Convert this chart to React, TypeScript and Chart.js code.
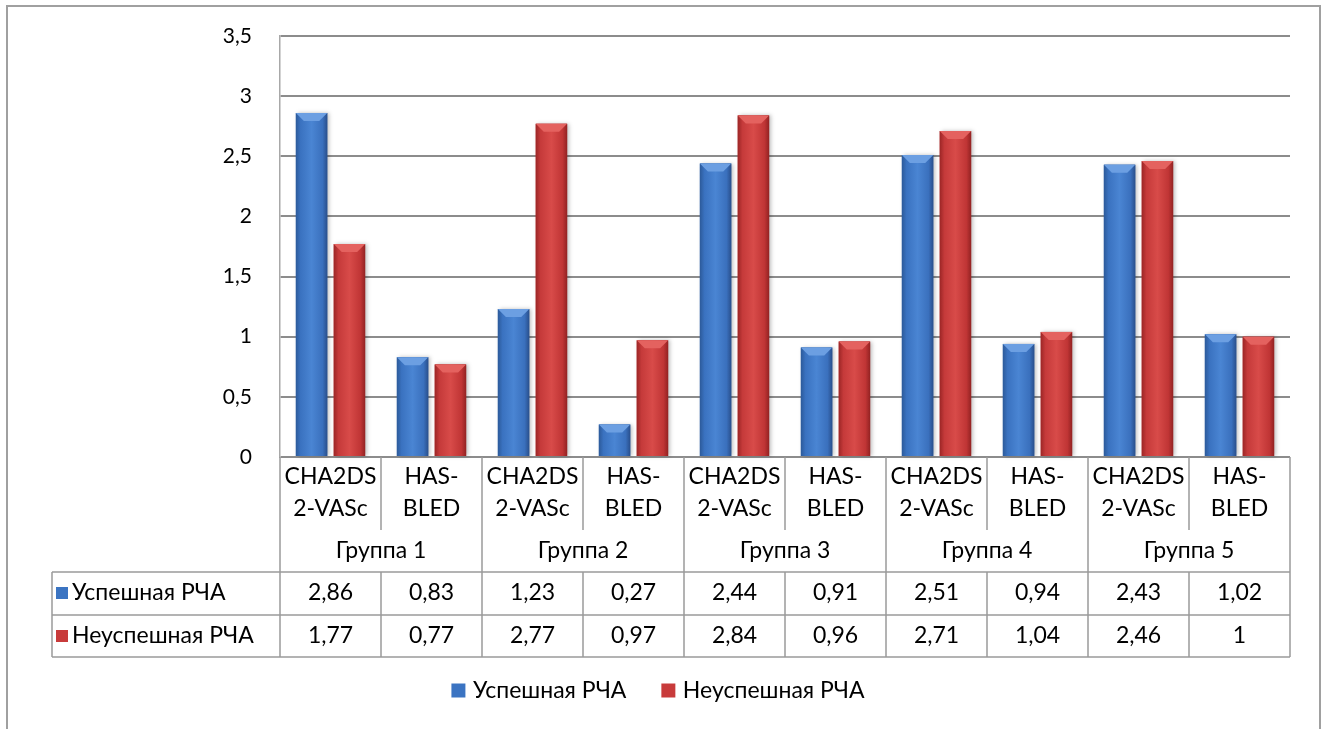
import { useEffect, useRef } from "react";
import { Chart, registerables } from "chart.js";

Chart.register(...registerables);

const subCategories: string[][] = [
  ["CHA2DS", "2-VASc"],
  ["HAS-", "BLED"],
];
const groups = ["Группа 1", "Группа 2", "Группа 3", "Группа 4", "Группа 5"];
const seriesNames = ["Успешная РЧА", "Неуспешная РЧА"];
const successValues = [2.86, 0.83, 1.23, 0.27, 2.44, 0.91, 2.51, 0.94, 2.43, 1.02];
const failValues = [1.77, 0.77, 2.77, 0.97, 2.84, 0.96, 2.71, 1.04, 2.46, 1];
const yMin = 0;
const yMax = 3.5;
const yStep = 0.5;

const FONT = 'Lato, "Open Sans", "DejaVu Sans", sans-serif';
const LINE = "#9a9a9a";
const BLUE = "#3b74c2";
const RED = "#c83b3b";
const TEXT_SIZE = 23;

const fmt = (v: number) => String(v).replace(".", ",");

const categoryLabels = groups.flatMap((g) => subCategories.map((s) => s.join(" ") + " " + g));

const barShading = {
  id: "barShading",
  afterDatasetsDraw(chart: any) {
    const ctx = chart.ctx;
    const palettes = [
      { stops: ["#2c5a9a", "#3a72c0", "#4a85d3", "#3a70bd", "#294f8c"], top: "#6c9fe2" },
      { stops: ["#9c2626", "#c53a3a", "#d84b49", "#c03535", "#932222"], top: "#e4625f" },
    ];
    chart.data.datasets.forEach((_: any, di: number) => {
      const meta = chart.getDatasetMeta(di);
      const pal = palettes[di];
      meta.data.forEach((el: any) => {
        const { x, y, base, width } = el.getProps(["x", "y", "base", "width"], true);
        const left = x - width / 2;
        const right = x + width / 2;
        const h = base - y;
        ctx.save();
        ctx.shadowColor = "rgba(0,0,0,0.25)";
        ctx.shadowBlur = 4;
        ctx.shadowOffsetX = 2;
        const g = ctx.createLinearGradient(left, 0, right, 0);
        g.addColorStop(0, pal.stops[0]);
        g.addColorStop(0.15, pal.stops[1]);
        g.addColorStop(0.5, pal.stops[2]);
        g.addColorStop(0.85, pal.stops[3]);
        g.addColorStop(1, pal.stops[4]);
        ctx.fillStyle = g;
        ctx.fillRect(left, y, width, h);
        ctx.restore();
        const bev = Math.min(8, h / 2);
        ctx.save();
        ctx.fillStyle = pal.top;
        ctx.beginPath();
        ctx.moveTo(left, y);
        ctx.lineTo(right, y);
        ctx.lineTo(right - bev, y + bev);
        ctx.lineTo(left + bev, y + bev);
        ctx.closePath();
        ctx.fill();
        ctx.restore();
      });
    });
  },
};

const dataTable = {
  id: "dataTable",
  afterDraw(chart: any) {
    const ctx = chart.ctx;
    const { left: L, right: R, bottom: B } = chart.chartArea;
    const n = categoryLabels.length;
    const step = (R - L) / n;
    const tableLeft = 52;
    const rowCatEnd = B + 73;
    const rowGroupEnd = B + 115;
    const row1End = B + 158;
    const row2End = B + 200;

    // outer frame
    ctx.save();
    ctx.strokeStyle = "#a0a0a0";
    ctx.lineWidth = 2;
    ctx.strokeRect(7, 6, 1313, 760);
    ctx.restore();

    ctx.save();
    ctx.strokeStyle = LINE;
    ctx.lineWidth = 1.5;
    const line = (x1: number, y1: number, x2: number, y2: number) => {
      ctx.beginPath();
      ctx.moveTo(x1, y1);
      ctx.lineTo(x2, y2);
      ctx.stroke();
    };
    line(L, B, L, row2End);
    line(R, B, R, row2End);
    for (let i = 1; i < n; i++) {
      const x = L + i * step;
      if (i % subCategories.length === 0) {
        line(x, B, x, row2End);
      } else {
        line(x, B, x, rowCatEnd);
        line(x, rowGroupEnd, x, row2End);
      }
    }
    line(tableLeft, rowGroupEnd, R, rowGroupEnd);
    line(tableLeft, row1End, R, row1End);
    line(tableLeft, row2End, R, row2End);
    line(tableLeft, rowGroupEnd, tableLeft, row2End);
    ctx.restore();

    ctx.save();
    ctx.fillStyle = "#000";
    ctx.font = `${TEXT_SIZE}px ${FONT}`;
    ctx.textAlign = "center";
    ctx.textBaseline = "middle";
    const xScale = chart.scales.x;
    for (let i = 0; i < n; i++) {
      const cx = xScale.getPixelForValue(i);
      const sub = subCategories[i % subCategories.length];
      ctx.fillText(sub[0], cx, B + 20);
      ctx.fillText(sub[1], cx, B + 52);
      ctx.fillText(fmt(successValues[i]), cx, B + 136);
      ctx.fillText(fmt(failValues[i]), cx, B + 179);
    }
    groups.forEach((g, gi) => {
      const cx = L + (gi + 0.5) * step * subCategories.length;
      ctx.fillText(g, cx, B + 94);
    });
    // series labels
    ctx.textAlign = "left";
    const rows = [
      { name: seriesNames[0], y: B + 136, color: BLUE },
      { name: seriesNames[1], y: B + 179, color: RED },
    ];
    rows.forEach((r) => {
      ctx.fillStyle = r.color;
      ctx.fillRect(56, r.y - 6, 12, 12);
      ctx.fillStyle = "#000";
      ctx.fillText(r.name, 72, r.y);
    });
    ctx.restore();
  },
};

export default function App() {
  const ref = useRef<HTMLCanvasElement>(null);
  useEffect(() => {
    if (!ref.current) return;
    const chart = new Chart(ref.current, {
      type: "bar",
      data: {
        labels: categoryLabels,
        datasets: [
          {
            label: seriesNames[0],
            data: successValues,
            backgroundColor: BLUE,
            borderWidth: 0,
            categoryPercentage: 0.75,
            barPercentage: 0.83,
          },
          {
            label: seriesNames[1],
            data: failValues,
            backgroundColor: RED,
            borderWidth: 0,
            categoryPercentage: 0.75,
            barPercentage: 0.83,
          },
        ],
      },
      options: {
        responsive: false,
        animation: false,
        layout: { padding: { top: 36, right: 37, bottom: 17, left: 30 } },
        plugins: {
          tooltip: { enabled: false },
          legend: {
            position: "bottom",
            labels: {
              font: { family: FONT, size: TEXT_SIZE },
              color: "#000",
              usePointStyle: true,
              pointStyle: "rect",
              boxWidth: 6,
              boxHeight: 14,
              padding: 39,
            },
          },
        },
        scales: {
          x: {
            ticks: { display: false },
            grid: { display: false },
            border: { display: false },
            afterFit: (s: any) => {
              s.height = 183;
            },
          },
          y: {
            min: yMin,
            max: yMax,
            ticks: {
              stepSize: yStep,
              color: "#000",
              font: { family: FONT, size: 21 },
              padding: 28,
              callback: (v: any) => fmt(Number(v)),
            },
            grid: { color: "#8c8c8c", lineWidth: 2, drawTicks: false },
            border: { display: true, color: "#a8a8a8", width: 1.5 },
            afterFit: (s: any) => {
              s.width = 250;
              s.paddingTop = 0;
              s.paddingBottom = 0;
            },
          },
        },
      },
      plugins: [barShading, dataTable],
    });
    return () => chart.destroy();
  }, []);
  return (
    <div style={{ position: "absolute", left: 0, top: 0, width: 1327, height: 729, background: "#fff" }}>
      <canvas ref={ref} width={1327} height={729} style={{ display: "block" }} />
    </div>
  );
}
